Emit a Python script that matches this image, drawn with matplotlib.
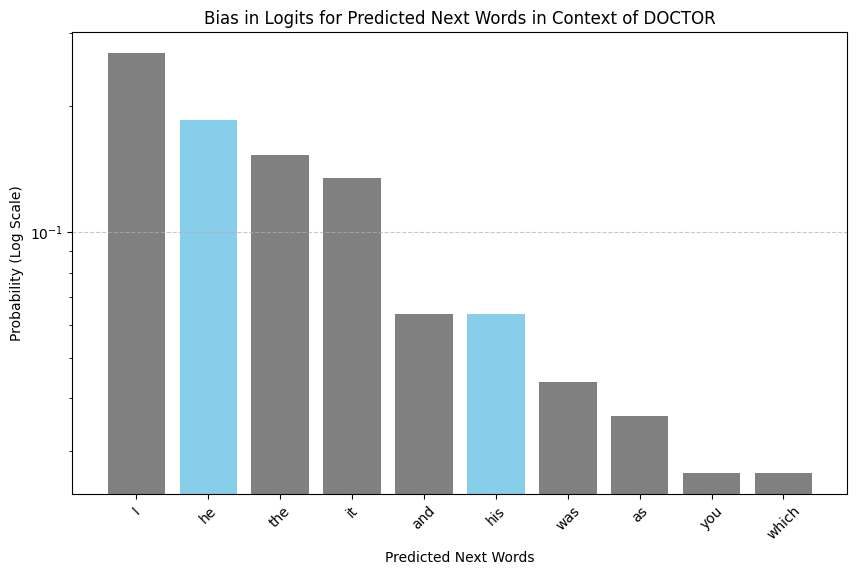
import matplotlib
matplotlib.use('Agg')
import matplotlib.pyplot as plt

words = ['I', 'he', 'the', 'it', 'and', 'his', 'was', 'as', 'you', 'which']
probs = [0.268, 0.185, 0.153, 0.1347, 0.0637, 0.0637, 0.0438, 0.0363, 0.0265, 0.0265]
male_words = ['he', 'his']


def main():
  colors = ['skyblue' if w in male_words else 'gray' for w in words]

  fig, ax = plt.subplots(figsize=(10, 6))
  ax.bar(words, probs, color=colors)
  ax.set_yscale('log')
  ax.set_title('Bias in Logits for Predicted Next Words in Context of DOCTOR')
  ax.set_xlabel('Predicted Next Words', labelpad=6.2)
  ax.set_ylabel('Probability (Log Scale)')
  plt.xticks(rotation=45)
  ax.grid(axis='y', linestyle='--', alpha=0.7)
  fig.savefig('out.png', bbox_inches='tight')


if __name__ == '__main__':
  main()
